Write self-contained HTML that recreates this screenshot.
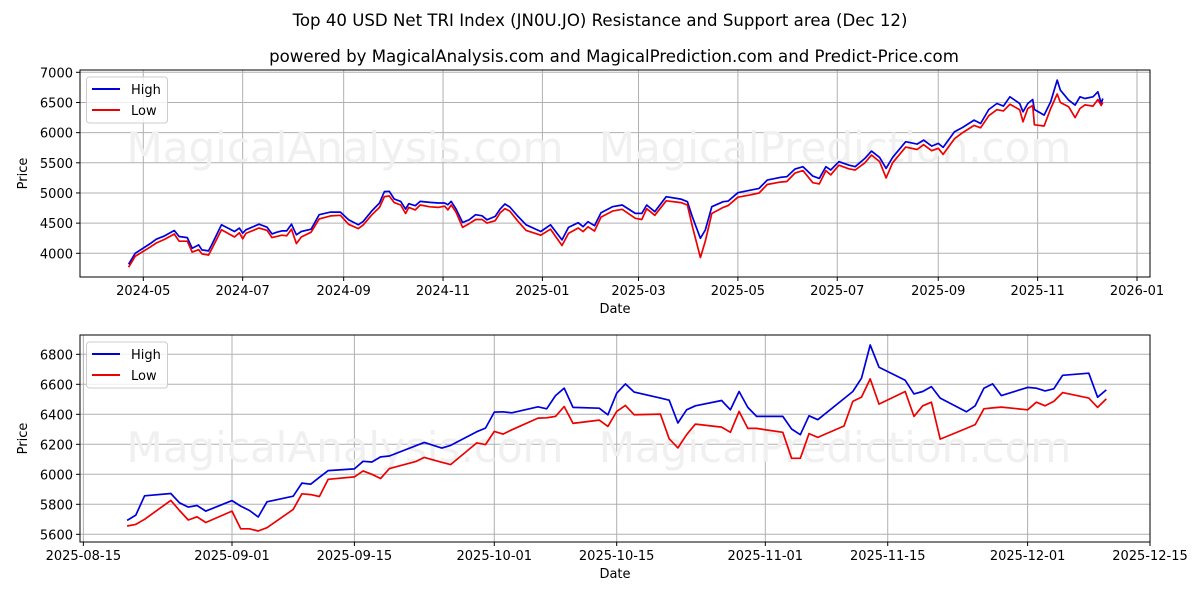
<!DOCTYPE html>
<html><head><meta charset="utf-8"><style>
body{margin:0;background:#fff;}
svg text{font-family:"DejaVu Sans","Liberation Sans",sans-serif;fill:#000;}
</style></head><body>
<svg id="chart" width="1200" height="600" xmlns="http://www.w3.org/2000/svg">
<rect width="1200" height="600" fill="#fff"/>
<text x="600" y="26" font-size="16.6" text-anchor="middle">Top 40 USD Net TRI Index (JN0U.JO) Resistance and Support area (Dec 12)</text>
<text x="614" y="62" font-size="16.6" text-anchor="middle">powered by MagicalAnalysis.com and MagicalPrediction.com and Predict-Price.com</text>
<g id="top"></g>
<g id="bot"></g>
</svg>
<script>
// Top panel data: days since 2024-05-01
const topDays=[-9,-5,4,8,13,19,22,27,30,34,36,40,42,48,56,59,61,63,71,76,79,82,85,88,91,94,97,103,108,115,121,126,132,135,140,145,148,151,154,158,161,163,167,170,176,181,185,187,189,192,196,200,204,208,211,216,219,222,225,230,235,244,250,257,261,267,270,273,277,281,288,294,302,306,309,314,321,330,334,337,342,345,349,356,359,365,373,378,383,391,395,400,405,411,415,419,422,427,433,437,443,447,452,456,460,468,475,479,484,488,491,498,503,510,514,519,524,528,532,538,540,543,546,547,553,557,561,563,568,572,575,578,583,586,588,589];
const topHigh=[3817,4000,4156,4233,4289,4378,4278,4261,4083,4139,4056,4039,4139,4472,4361,4417,4333,4389,4483,4433,4322,4350,4372,4372,4483,4306,4361,4400,4639,4683,4683,4556,4472,4528,4694,4833,5022,5028,4900,4861,4733,4822,4789,4861,4844,4833,4833,4806,4861,4733,4511,4556,4639,4622,4556,4611,4733,4817,4767,4611,4472,4361,4472,4222,4430,4508,4441,4524,4458,4673,4773,4800,4662,4662,4800,4690,4938,4899,4855,4607,4248,4386,4773,4855,4866,5004,5048,5076,5214,5258,5269,5396,5435,5280,5242,5435,5380,5518,5462,5435,5573,5694,5589,5407,5589,5849,5810,5876,5777,5821,5755,6014,6086,6207,6152,6384,6483,6439,6594,6483,6345,6483,6550,6384,6290,6511,6870,6704,6539,6456,6594,6566,6594,6677,6483,6566];
const topLow=[3770,3950,4100,4170,4230,4320,4200,4200,4020,4060,3990,3970,4070,4390,4270,4340,4240,4330,4420,4380,4260,4280,4300,4290,4400,4160,4270,4350,4570,4620,4630,4480,4410,4470,4630,4760,4940,4950,4840,4800,4660,4760,4720,4800,4770,4760,4780,4720,4800,4680,4430,4490,4560,4560,4500,4540,4670,4740,4700,4530,4380,4300,4400,4130,4330,4420,4360,4440,4370,4600,4700,4730,4580,4560,4740,4630,4870,4840,4800,4450,3930,4200,4660,4760,4790,4930,4970,5000,5140,5180,5190,5330,5370,5170,5150,5370,5300,5460,5400,5380,5500,5630,5520,5250,5500,5760,5720,5800,5700,5740,5640,5900,6000,6120,6080,6280,6380,6360,6470,6380,6180,6400,6450,6130,6110,6400,6640,6500,6430,6250,6400,6460,6440,6550,6450,6500];
const topYTicks=[4000,4500,5000,5500,6000,6500,7000];
const topXTickLabels=["2024-05","2024-07","2024-09","2024-11","2025-01","2025-03","2025-05","2025-07","2025-09","2025-11","2026-01"];
const topXTickDays=[0,61,123,184,245,304,365,426,488,549,610];
// Bottom panel data: days since 2025-09-01
const botDays=[-12,-11,-10,-7,-6,-5,-4,-3,0,1,2,3,4,7,8,9,10,11,14,15,16,17,18,21,22,24,25,28,29,30,31,32,35,36,37,38,39,42,43,44,45,46,49,50,51,52,53,56,57,58,59,60,63,64,65,66,67,70,71,72,73,74,77,78,79,80,81,84,85,86,87,88,91,92,93,94,95,98,99,100];
const botHigh=[5693,5728,5857,5872,5810,5781,5792,5755,5825,5788,5759,5715,5817,5854,5941,5934,5980,6025,6036,6087,6082,6116,6122,6190,6213,6175,6193,6284,6308,6415,6417,6410,6450,6437,6525,6574,6446,6441,6397,6541,6603,6548,6508,6494,6342,6430,6457,6492,6430,6552,6446,6386,6386,6302,6264,6390,6364,6505,6552,6641,6862,6714,6627,6536,6552,6585,6508,6417,6457,6574,6603,6525,6579,6574,6556,6570,6660,6674,6514,6563];
const botLow=[5655,5666,5700,5826,5759,5695,5717,5679,5755,5637,5637,5622,5644,5766,5870,5865,5852,5967,5983,6023,6000,5972,6038,6085,6113,6080,6065,6209,6198,6286,6268,6297,6375,6377,6386,6452,6339,6361,6319,6419,6459,6397,6401,6237,6176,6264,6335,6315,6280,6419,6306,6306,6280,6107,6107,6271,6246,6322,6486,6515,6636,6468,6552,6386,6457,6481,6235,6306,6331,6437,6443,6448,6430,6481,6457,6486,6545,6508,6446,6503];
const botYTicks=[5600,5800,6000,6200,6400,6600,6800];
const botXTickLabels=["2025-08-15","2025-09-01","2025-09-15","2025-10-01","2025-10-15","2025-11-01","2025-11-15","2025-12-01","2025-12-15"];
const botXTickDays=[-17,0,14,30,44,61,75,91,105];

const NS="http://www.w3.org/2000/svg";
function mk(parent,tag,attrs){const e=document.createElementNS(NS,tag);for(const k in attrs)e.setAttribute(k,attrs[k]);parent.appendChild(e);return e;}

function panel(g,cfg){
  const {L,R,T,B,x,y,days,high,low,yTicks,xLabels,xDays,wm}=cfg;
  for(let i=0;i<xDays.length;i++){
    const px=x(xDays[i]);
    const gl=mk(g,'line',{x1:px,x2:px,y1:T,y2:B,stroke:'#b0b0b0','stroke-width':1});
    
    
    const tk=mk(g,'line',{x1:px,x2:px,y1:B,y2:B+4,stroke:'#000','stroke-width':1});
    
    
    const t=mk(g,'text',{x:px,y:B+18,'font-size':13,'text-anchor':'middle'});
    t.textContent=xLabels[i];
    
    
  }
  for(const v of yTicks){
    const py=y(v);
    const gl=mk(g,'line',{x1:L,x2:R,y1:py,y2:py,stroke:'#b0b0b0','stroke-width':1});
    
    
    const tk=mk(g,'line',{x1:L-4,x2:L,y1:py,y2:py,stroke:'#000','stroke-width':1});
    
    
    const t=mk(g,'text',{x:L-7,y:py+5,'font-size':13,'text-anchor':'end'});
    t.textContent=v;
    
    
  }
  for(const w of wm){
    const t=mk(g,'text',{x:w[0],y:w[1],'font-size':42,'text-anchor':'middle'});
    t.setAttribute('style','fill:#f0f0f0');
    t.textContent=w[2];
    
    
  }
  const hp=days.map((d,i)=>x(d).toFixed(1)+','+y(high[i]).toFixed(1)).join(' ');
  const lp=days.map((d,i)=>x(d).toFixed(1)+','+y(low[i]).toFixed(1)).join(' ');
  const h=mk(g,'polyline',{points:hp,fill:'none',stroke:'#0000dd','stroke-width':1.7,'stroke-linejoin':'round'});
  
  
  const l=mk(g,'polyline',{points:lp,fill:'none',stroke:'#ee0000','stroke-width':1.7,'stroke-linejoin':'round'});
  
  
  const fr=mk(g,'rect',{x:L,y:T,width:R-L,height:B-T,fill:'none',stroke:'#000','stroke-width':1});
  
  
  const lg=mk(g,'g',{});
  
  
  mk(lg,'rect',{x:L+6.5,y:T+7,width:81,height:46,rx:3,fill:'#fff','fill-opacity':0.8,stroke:'#ccc'});
  mk(lg,'line',{x1:L+12,x2:L+40,y1:T+19,y2:T+19,stroke:'#0000dd','stroke-width':2});
  mk(lg,'line',{x1:L+12,x2:L+40,y1:T+40,y2:T+40,stroke:'#ee0000','stroke-width':2});
  const t1=mk(lg,'text',{x:L+51,y:T+24,'font-size':13});t1.textContent='High';
  
  
  const t2=mk(lg,'text',{x:L+51,y:T+45,'font-size':13});t2.textContent='Low';
  
  
  const xl=mk(g,'text',{x:(L+R)/2,y:B+36,'font-size':13,'text-anchor':'middle'});xl.textContent='Date';
  
  
  const yl=mk(g,'text',{x:0,y:0,'font-size':13,'text-anchor':'middle',transform:`translate(27,${(T+B)/2}) rotate(-90)`});yl.textContent='Price';
  
  
}

const tL=80,tR=1150,tT=70,tB=277;
const tx=d=>143.3+d*1.629;
const ty=v=>253.3-(v-4000)*(181/3000);
panel(document.getElementById('top'),{L:tL,R:tR,T:tT,B:tB,x:tx,y:ty,days:topDays,high:topHigh,low:topLow,yTicks:topYTicks,xLabels:topXTickLabels,xDays:topXTickDays,wm:[[345,162,'MagicalAnalysis.com'],[835,162,'MagicalPrediction.com']]});
const bL=80,bR=1150,bT=335,bB=542;
const bx=d=>232+d*8.743;
const by=v=>354.3-(v-6800)*(180/1200);
panel(document.getElementById('bot'),{L:bL,R:bR,T:bT,B:bB,x:bx,y:by,days:botDays,high:botHigh,low:botLow,yTicks:botYTicks,xLabels:botXTickLabels,xDays:botXTickDays,wm:[[345,462,'MagicalAnalysis.com'],[835,462,'MagicalPrediction.com']]});
</script>
</body></html>
